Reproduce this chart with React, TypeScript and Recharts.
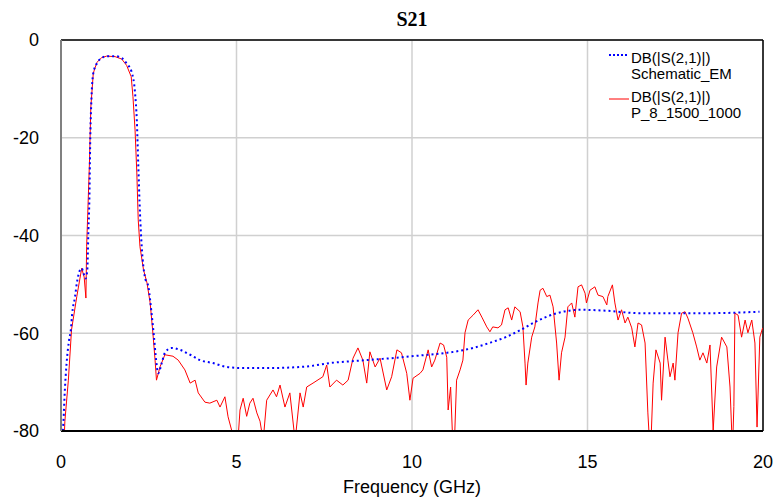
import React from 'react';
import { LineChart, Line, XAxis, YAxis, CartesianGrid, ReferenceLine, Legend } from 'recharts';

// Frequency (GHz), DB(|S(2,1)|)
const schematicEM: [number, number][] = [
  [0.04, -82], [0.07, -78], [0.11, -71.6], [0.16, -66.1], [0.23, -61.4], [0.28, -59.3],
  [0.32, -55.9], [0.4, -52.5], [0.45, -49.8], [0.54, -47.1], [0.59, -46.7], [0.64, -47.7],
  [0.7, -48.8], [0.75, -47], [0.78, -39], [0.81, -32], [0.83, -21.8], [0.87, -11.6],
  [0.92, -6.8], [1.02, -4.8], [1.16, -3.7], [1.3, -3.3], [1.54, -3.3], [1.73, -3.7],
  [1.87, -4.8], [2.01, -6.5], [2.11, -10.9], [2.16, -16.5], [2.2, -25.2], [2.25, -35.4],
  [2.3, -42.3], [2.39, -48.5], [2.49, -50.5], [2.58, -55.9], [2.65, -60.8], [2.71, -65.5],
  [2.77, -68.2], [2.87, -66.1], [2.96, -64], [3.15, -63], [3.39, -63.4], [3.68, -64.4],
  [3.96, -65.5], [4.33, -66.1], [4.72, -66.9], [5.1, -67.1], [6.0, -67.1], [7.0, -66.8],
  [7.66, -66.1], [8.5, -65.6], [9.57, -65], [10.3, -64.5], [11.0, -64], [11.74, -63],
  [12.2, -62], [12.7, -60.7], [13.1, -59.3], [13.45, -57.9], [14.13, -55.9], [14.8, -55.2],
  [15.56, -55.4], [16.5, -55.9], [18.4, -55.9], [19.9, -55.6],
];

const p8_1500_1000: [number, number][] = [
  [0.09, -82], [0.11, -78], [0.21, -69.6], [0.3, -59.3], [0.45, -52.5], [0.59, -46.7],
  [0.66, -48.5], [0.71, -52.8], [0.73, -42.3], [0.76, -36], [0.81, -25.2], [0.85, -13.7],
  [0.92, -6.8], [1.02, -4.6], [1.16, -3.6], [1.3, -3.3], [1.54, -3.4], [1.73, -3.9],
  [1.87, -5.2], [2.0, -7.5], [2.05, -11.6], [2.11, -18.4], [2.16, -27.2], [2.2, -36.8],
  [2.25, -42.3], [2.35, -47], [2.45, -49.7], [2.54, -53.8], [2.61, -59.3], [2.68, -65.5],
  [2.72, -69.6], [2.82, -66.9], [2.96, -64.4], [3.19, -64.7], [3.34, -65.5], [3.53, -67.5],
  [3.68, -70.2], [3.82, -69.6], [3.91, -72.2], [4.1, -74.1], [4.24, -74.3], [4.44, -73.7],
  [4.53, -75.1], [4.67, -73], [4.76, -77.1], [4.86, -79.8], [4.95, -83], [5.05, -81],
  [5.1, -75.7], [5.19, -73.3], [5.29, -77], [5.38, -74.3], [5.47, -73.3], [5.58, -76.3],
  [5.67, -78], [5.76, -82], [5.86, -73.7], [6.04, -71.6], [6.14, -73], [6.24, -70.6],
  [6.38, -75.1], [6.52, -72.2], [6.67, -82], [6.81, -72.2], [6.9, -75.1], [7.0, -71],
  [7.18, -70.2], [7.46, -68.9], [7.57, -66.5], [7.66, -71], [7.85, -69.6], [8.03, -70.6],
  [8.18, -69.6], [8.32, -65.1], [8.46, -63], [8.6, -65.5], [8.71, -70.2], [8.8, -63.8],
  [8.95, -66.9], [9.09, -65.1], [9.28, -71.6], [9.42, -68.9], [9.57, -63.4], [9.7, -64],
  [9.85, -68.2], [9.94, -73.7], [10.03, -69.2], [10.23, -68.2], [10.31, -67.5], [10.46, -63.4],
  [10.56, -66.9], [10.65, -65.5], [10.8, -62], [10.9, -62.4], [10.99, -64.9], [11.03, -75.7],
  [11.1, -71], [11.17, -84], [11.22, -80], [11.27, -69.6], [11.37, -67.5], [11.45, -65.5],
  [11.51, -59.9], [11.6, -57.3], [11.74, -56.3], [11.88, -55.2], [11.99, -56.7], [12.13, -58.7],
  [12.22, -59.7], [12.3, -58.7], [12.45, -58.9], [12.55, -58.3], [12.65, -55.2], [12.74, -54.8],
  [12.84, -57.3], [12.93, -54.6], [13.08, -55.6], [13.16, -58.7], [13.22, -66.1], [13.25, -70.6],
  [13.3, -66.1], [13.41, -60.8], [13.5, -58.7], [13.59, -53.8], [13.65, -51.2], [13.73, -50.8],
  [13.84, -52.5], [13.93, -52.2], [14.02, -54.6], [14.12, -62], [14.19, -69.6], [14.26, -64],
  [14.36, -60.8], [14.44, -54.6], [14.55, -53.8], [14.64, -56.7], [14.73, -50.5], [14.83, -50.1],
  [14.93, -51.8], [14.97, -53.8], [15.07, -51.2], [15.21, -50.5], [15.3, -52.2], [15.44, -52.5],
  [15.55, -54.2], [15.58, -52.5], [15.71, -50.1], [15.78, -53.8], [15.87, -57.3], [15.97, -55.2],
  [16.07, -57.9], [16.15, -56.7], [16.26, -58.9], [16.35, -62.8], [16.44, -57.9], [16.54, -58.3],
  [16.64, -62], [16.72, -76.3], [16.78, -84], [16.82, -80], [16.87, -70.2], [16.95, -63.4],
  [17.07, -66.1], [17.11, -73.7], [17.21, -60.8], [17.29, -65.5], [17.35, -68.9], [17.44, -66.1],
  [17.49, -69.6], [17.58, -59.9], [17.68, -55.9], [17.78, -55.6], [17.86, -56.9], [18.0, -59.9],
  [18.11, -62.8], [18.2, -65.5], [18.29, -64], [18.4, -66.1], [18.49, -62.4], [18.58, -80],
  [18.68, -66.9], [18.82, -60.8], [18.97, -62.8], [19.06, -71], [19.13, -84], [19.17, -75],
  [19.2, -55.9], [19.29, -56.3], [19.39, -60.8], [19.49, -57.3], [19.57, -59.9], [19.68, -57.3],
  [19.77, -62], [19.83, -79.2], [19.91, -60.8], [19.99, -58.9],
];

const xTicks = [0, 5, 10, 15, 20];
const yTicks = [0, -20, -40, -60, -80];
const legendLabels = [
  ['DB(|S(2,1)|)', 'Schematic_EM'],
  ['DB(|S(2,1)|)', 'P_8_1500_1000'],
];
const seriesColors = ['#0000ff', '#ff0000'];

const emData = schematicEM.map(([f, db]) => ({ f, db }));
const p8Data = p8_1500_1000.map(([f, db]) => ({ f, db }));

const SANS = '"Liberation Sans", Arial, sans-serif';

const lineStyle = (left: number, top: number): React.CSSProperties => ({
  position: 'absolute', left, top, height: 15, lineHeight: '15px', whiteSpace: 'nowrap', overflow: 'visible',
});

const LegendContent = () => (
  <div style={{ position: 'relative', width: 160, height: 80, fontFamily: SANS, fontSize: 15, color: '#000' }}>
    <svg style={{ position: 'absolute', left: 4, top: 0 }} width={20} height={80}>
      <line x1={0} x2={20} y1={10} y2={10} stroke={seriesColors[0]} strokeWidth={2} strokeDasharray="2 2" />
      <line x1={0} x2={20} y1={54} y2={54} stroke={seriesColors[1]} strokeWidth={1} />
    </svg>
    <div style={lineStyle(26, 5)}>{legendLabels[0][0]}</div>
    <div style={lineStyle(26, 21)}>{legendLabels[0][1]}</div>
    <div style={lineStyle(26, 44)}>{legendLabels[1][0]}</div>
    <div style={lineStyle(26, 60)}>{legendLabels[1][1]}</div>
  </div>
);

export default function App() {
  return (
    <div style={{ position: 'absolute', left: 0, top: 0, width: 776, height: 499, background: '#fff' }}>
      <div style={{ position: 'absolute', left: 61, width: 702, top: 8, textAlign: 'center', fontFamily: '"Liberation Serif", "Times New Roman", serif', fontWeight: 'bold', fontSize: 20, color: '#000' }}>
        S21
      </div>
      <LineChart width={776} height={499} margin={{ top: 40, right: 13, bottom: 38, left: 11 }}>
        <CartesianGrid stroke="#d0d0d0" strokeWidth={1.5} />
        <XAxis
          type="number"
          dataKey="f"
          domain={[0, 20]}
          ticks={xTicks}
          allowDataOverflow
          height={30}
          tickLine={false}
          tickSize={0}
          tickMargin={24}
          axisLine={{ stroke: '#000', strokeWidth: 2 }}
          tick={{ fill: '#000', fontSize: 18, fontFamily: SANS }}
        />
        <YAxis
          type="number"
          domain={[-80, 0]}
          ticks={yTicks}
          allowDataOverflow
          width={50}
          tickLine={false}
          tickSize={0}
          tickMargin={22}
          axisLine={{ stroke: '#808080', strokeWidth: 2 }}
          tick={{ fill: '#000', fontSize: 18, fontFamily: SANS }}
        />
        <ReferenceLine y={0} stroke="#000" strokeWidth={1.5} />
        <ReferenceLine x={20} stroke="#000" strokeWidth={1.5} />
        <Line
          data={p8Data}
          dataKey="db"
          name="P_8_1500_1000"
          type="linear"
          stroke={seriesColors[1]}
          strokeWidth={1}
          dot={false}
          activeDot={false}
          isAnimationActive={false}
        />
        <Line
          data={emData}
          dataKey="db"
          name="Schematic_EM"
          type="monotone"
          stroke={seriesColors[0]}
          strokeWidth={2}
          strokeDasharray="2 3"
          dot={false}
          activeDot={false}
          isAnimationActive={false}
        />
        <Legend
          layout="vertical"
          align="center"
          verticalAlign="middle"
          wrapperStyle={{ left: 605, top: 45, width: 160 }}
          content={LegendContent}
        />
      </LineChart>
      <div style={{ position: 'absolute', left: 61, width: 702, top: 477, textAlign: 'center', fontFamily: SANS, fontSize: 18, color: '#000' }}>
        Frequency (GHz)
      </div>
    </div>
  );
}
